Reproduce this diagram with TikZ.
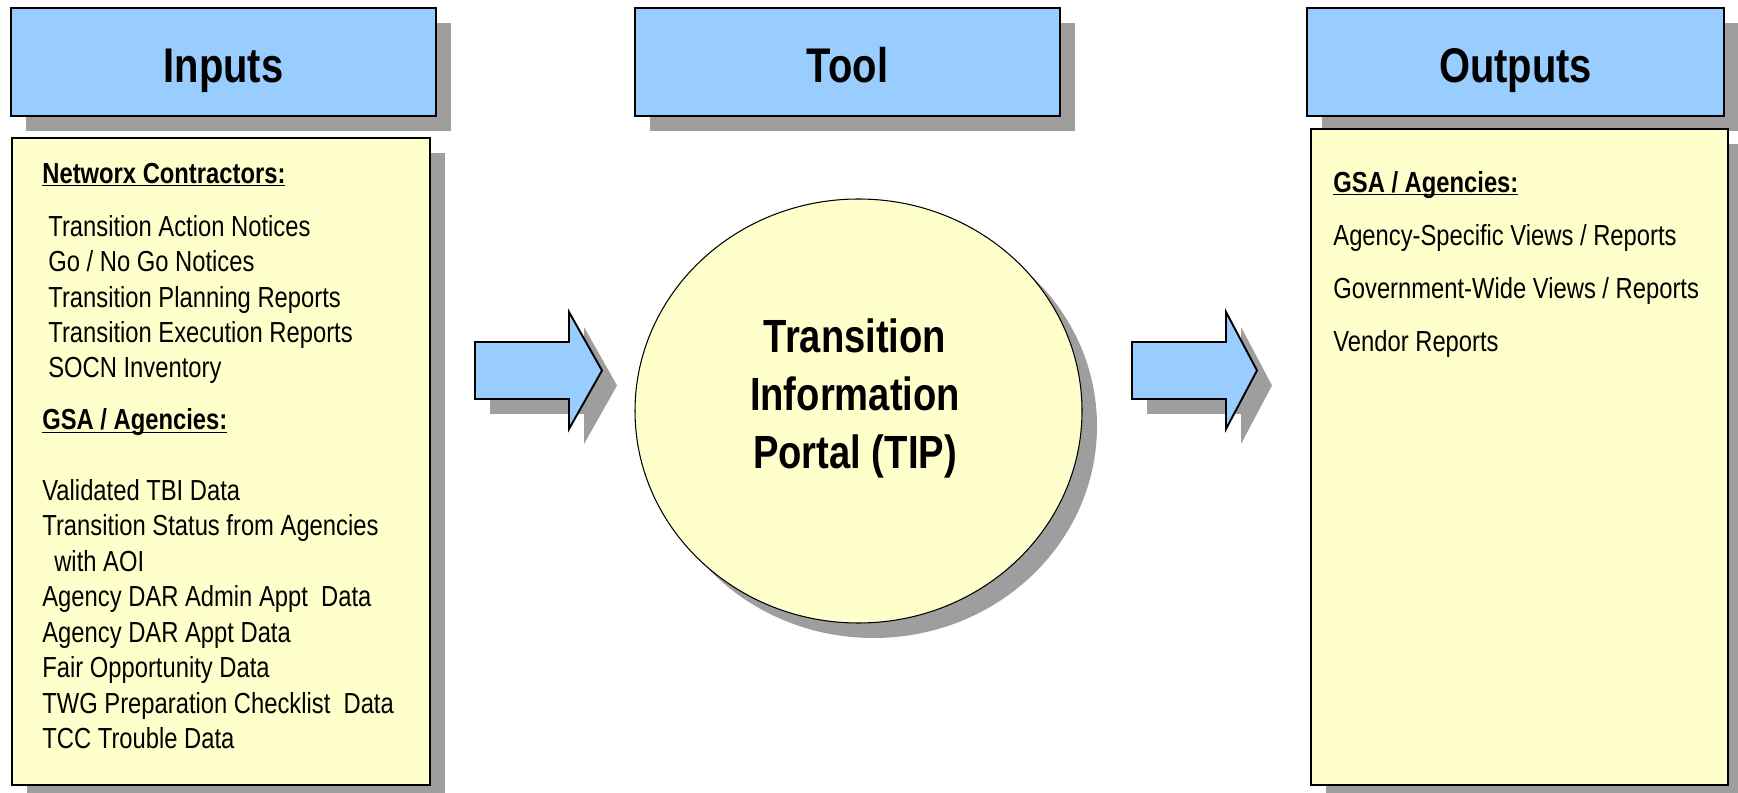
\documentclass[tikz,border=0pt]{standalone}
\usepackage{fontspec}
\setmainfont{Liberation Sans}[FakeStretch=0.82]
\usetikzlibrary{shapes.geometric, shadows, positioning}
\definecolor{headerblue}{RGB}{153, 204, 255}
\definecolor{bodyyellow}{RGB}{255, 255, 204}
\definecolor{shadowgray}{RGB}{158, 158, 158}
\newcommand{\grouphead}[1]{\textbf{\underline{\vphantom{N}\smash{#1}}}}

\begin{document}
\begin{tikzpicture}[
    boxshadow/.style={drop shadow={shadow xshift=0.3cm, shadow yshift=-0.3cm,
                      fill=shadowgray, opacity=1}},
    head/.style={rectangle, draw, line width=1.1pt, fill=headerblue, boxshadow,
                 minimum width=8.5cm, minimum height=2.16cm, text height=23pt, text depth=0pt,
                 font=\fontsize{27.7}{33}\selectfont\bfseries},
    listbox/.style={rectangle, draw, line width=1.1pt, fill=bodyyellow, boxshadow},
    itemtext/.style={inner sep=0pt, align=left, font=\fontsize{16.5}{20.15}\selectfont},
    bigarrow/.style={draw, line width=1.1pt, fill=headerblue, boxshadow, line join=miter}
]
    \useasboundingbox (0,0) rectangle (34.76,-15.86);

    % Column headers
    \node[head] (inputs) at (4.47,-1.24) {Inputs};
    \node[head] (tool) at (16.95,-1.24) {Tool};
    \node[head, minimum width=8.34cm] (outputs) at (30.31,-1.24) {Outputs};

    % Inputs list
    \node[listbox, minimum width=8.36cm, minimum height=12.94cm, below=0.4cm of inputs, xshift=-0.05cm] (inbox) {};
    \node[itemtext, below right=0.52cm and 0.62cm of inbox.north west] (inlist) {%
        \grouphead{Networx Contractors:}\\[10pt]
        \hspace*{3.4pt}Transition Action Notices\\
        \hspace*{3.4pt}Go / No Go Notices\\
        \hspace*{3.4pt}Transition Planning Reports\\
        \hspace*{3.4pt}Transition Execution Reports\\
        \hspace*{3.4pt}SOCN Inventory\\[9.5pt]
        \grouphead{GSA / Agencies:}\\[20pt]
        Validated TBI Data\\
        Transition Status from Agencies\\
        \hspace*{6.8pt}with AOI\\
        Agency DAR Admin Appt\ \ Data\\
        Agency DAR Appt Data\\
        Fair Opportunity Data\\
        TWG Preparation Checklist\ \ Data\\
        TCC Trouble Data};

    % The tool
    \node[ellipse, draw, line width=0.6pt, fill=bodyyellow, boxshadow,
          minimum width=8.94cm, minimum height=8.48cm] (tip) at (17.17,-8.22) {};
    \node[align=center, font=\fontsize{26.5}{32.9}\selectfont\bfseries]
        (tiplabel) at ([xshift=-0.07cm, yshift=0.25cm]tip.center) {Transition\\Information\\Portal (TIP)};

    % Outputs list
    \node[listbox, minimum width=8.34cm, minimum height=13.12cm, below=0.22cm of outputs, xshift=0.08cm] (outbox) {};
    \node[itemtext, below right=0.88cm and 0.46cm of outbox.north west] (outlist) {%
        \grouphead{GSA / Agencies:}\\[10pt]
        Agency-Specific Views / Reports\\[10pt]
        Government-Wide Views / Reports\\[10pt]
        Vendor Reports};

    % Block arrows
    \draw[bigarrow] (9.5,-6.84) -- (11.38,-6.84) -- (11.38,-6.24) -- (12.04,-7.41)
        -- (11.38,-8.58) -- (11.38,-7.98) -- (9.5,-7.98) -- cycle;
    \draw[bigarrow] (22.64,-6.84) -- (24.52,-6.84) -- (24.52,-6.24) -- (25.14,-7.41)
        -- (24.52,-8.58) -- (24.52,-7.98) -- (22.64,-7.98) -- cycle;
\end{tikzpicture}
\end{document}
